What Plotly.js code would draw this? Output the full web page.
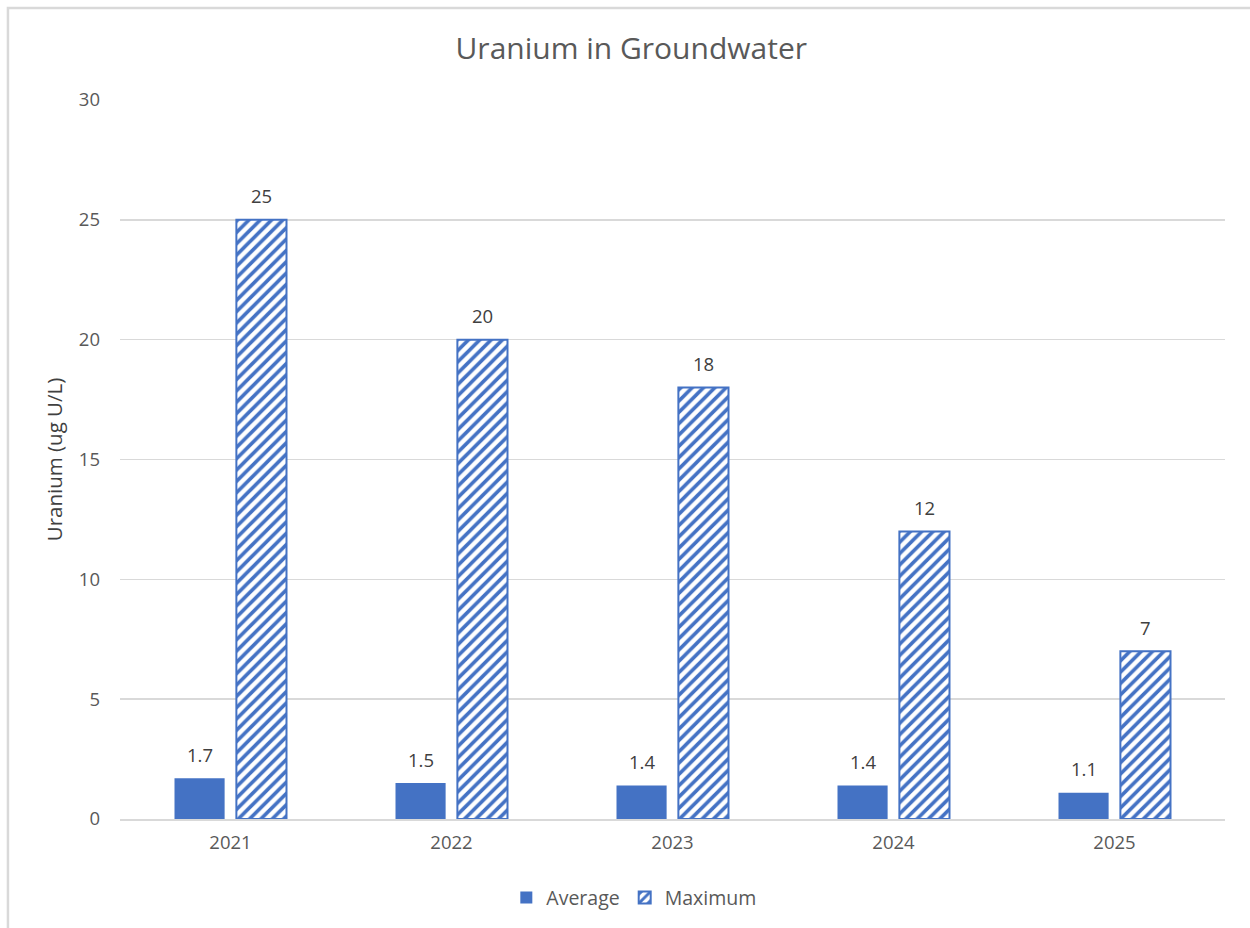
<!DOCTYPE html>
<html>
<head>
<meta charset="utf-8">
<script src="https://cdn.plot.ly/plotly-3.0.1.min.js"></script>
<style>html,body{margin:0;padding:0;background:#fff;}#chart{width:1250px;height:928px;}</style>
</head>
<body>
<div id="chart"></div>
<script>
const years = ["2021", "2022", "2023", "2024", "2025"];
const averageValues = [1.7, 1.5, 1.4, 1.4, 1.1];
const maximumValues = [25, 20, 18, 12, 7];
const yTicks = [0, 5, 10, 15, 20, 25, 30];

const blue = "#4472C4";
const textGray = "#595959";
const font = "'Open Sans', Lato, sans-serif";

const traces = [
  {
    type: "bar", name: "Average", x: years, y: averageValues,
    marker: {color: blue, line: {color: blue, width: 0}},
    hoverinfo: "none"
  },
  {
    type: "bar", name: "Maximum", x: years, y: maximumValues,
    marker: {color: "#ffffff", line: {color: blue, width: 2},
      pattern: {shape: "/", fgcolor: blue, bgcolor: "#ffffff", fgopacity: 1, size: 8, solidity: 0.45, fillmode: "overlay"}},
    hoverinfo: "none"
  }
];

const annotations = [];
years.forEach((yr, i) => {
  annotations.push({x: i, y: averageValues[i], xref: "x", yref: "y", text: averageValues[i].toFixed(1),
    showarrow: false, xshift: -31, yshift: 24, yanchor: "middle",
    font: {size: 18.5, color: "#404040", family: font}});
  annotations.push({x: i, y: maximumValues[i], xref: "x", yref: "y", text: String(maximumValues[i]),
    showarrow: false, xshift: 31, yshift: 24, yanchor: "middle",
    font: {size: 18.5, color: "#404040", family: font}});
});

const layout = {
  width: 1250, height: 928,
  margin: {l: 120, r: 25, t: 100, b: 108},
  paper_bgcolor: "#ffffff", plot_bgcolor: "#ffffff",
  font: {family: font, color: textGray, size: 18},
  title: {text: "Uranium in Groundwater", font: {size: 30, color: textGray, family: font}, x: 0.505, xanchor: "center", y: 0.948, yanchor: "middle"},
  barmode: "group", bargap: 0.44, bargroupgap: 0.19,
  xaxis: {type: "category", range: [-0.5, years.length - 0.5], showgrid: false, showline: true, linecolor: "#d9d9d9", linewidth: 2,
    ticks: "", tickfont: {size: 18.5, color: textGray}, ticklabelstandoff: 6, zeroline: false},
  yaxis: {range: [0, 30], tickvals: yTicks, showgrid: true, gridcolor: "#d9d9d9", gridwidth: 1.5,
    zeroline: false, showline: false, ticks: "", tickfont: {size: 18.5, color: textGray}, ticklabelstandoff: 19,
    title: {text: "Uranium (ug U/L)", font: {size: 20.5, color: "#404040"}, standoff: 10}},
  legend: {orientation: "h", x: 0.465, xanchor: "center", y: -0.108, yanchor: "middle",
    font: {size: 19.5, color: textGray}, itemwidth: 30, traceorder: "normal"},
  annotations: annotations,
  shapes: [{type: "path", xref: "paper", yref: "paper",
    path: "M -0.1014 -0.3 L -0.1014 1.1278 L 1.2 1.1278",
    line: {color: "#d9d9d9", width: 2.5}}]
};

Plotly.newPlot("chart", traces, layout, {displayModeBar: false, staticPlot: true});
</script>
</body>
</html>
